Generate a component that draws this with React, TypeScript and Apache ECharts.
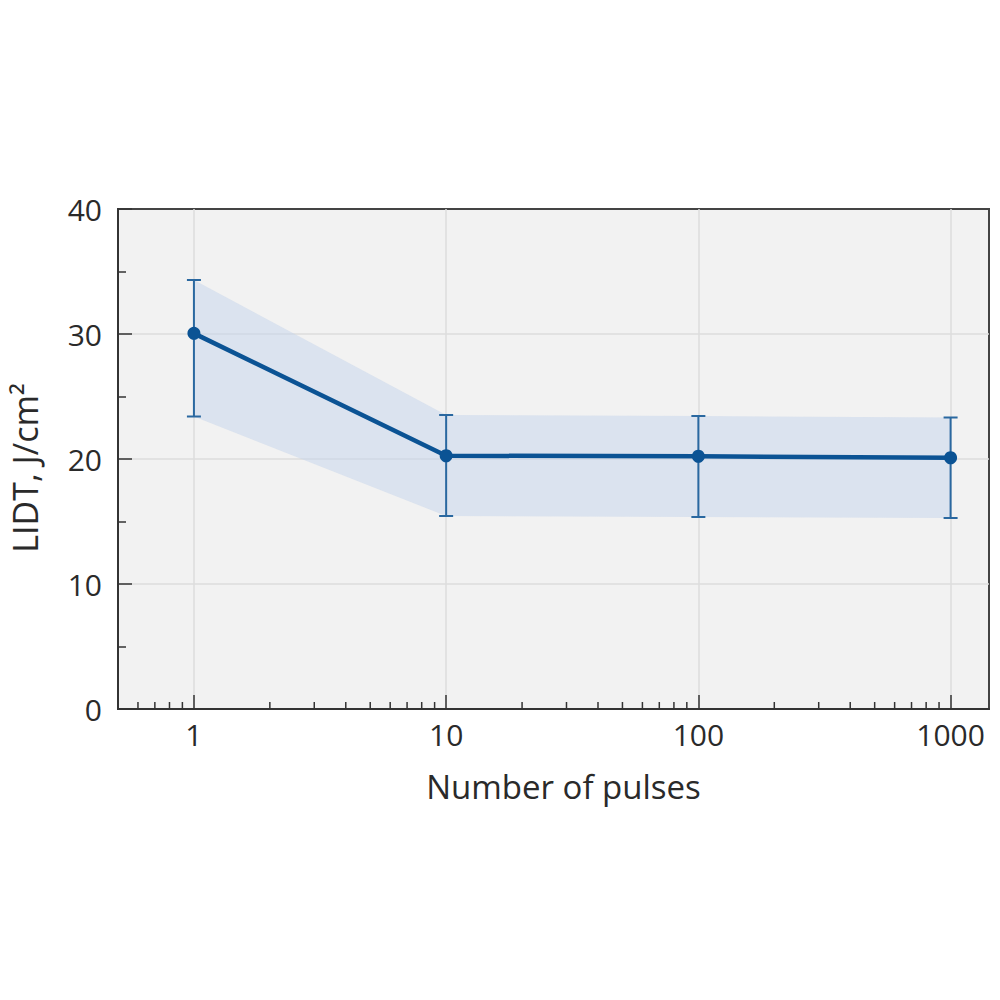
import React, { useEffect, useRef } from "react";
import * as echarts from "echarts";

const pulses = [1, 10, 100, 1000];
const lidt = [30.05, 20.26, 20.22, 20.1];
const lidtLow = [23.4, 15.44, 15.36, 15.28];
const lidtHigh = [34.32, 23.52, 23.44, 23.32];
const majorTicksX = [1, 10, 100, 1000];
const minorTicksX = [
  0.6, 0.7, 0.8, 0.9,
  2, 3, 4, 5, 6, 7, 8, 9,
  20, 30, 40, 50, 60, 70, 80, 90,
  200, 300, 400, 500, 600, 700, 800, 900,
];
const yMin = 0;
const yMax = 40;
const yStep = 10;
const xMin = 0.5;
const xMax = 1420;

const FONT = "'Open Sans', sans-serif";

export default function App() {
  const ref = useRef<HTMLDivElement>(null);
  useEffect(() => {
    if (!ref.current) return;
    const chart = echarts.init(ref.current, undefined, { renderer: "svg" });
    const isMajor = (v: number) => majorTicksX.some((m) => Math.abs(m - v) < 1e-6 * m);
    const option: any = {
      animation: false,
      backgroundColor: "#ffffff",
      grid: {
        left: 118,
        right: 11,
        top: 209,
        bottom: 291,
        show: true,
        backgroundColor: "#f2f2f2",
        borderColor: "#444444",
        borderWidth: 2,
        containLabel: false,
      },
      xAxis: {
        type: "log",
        logBase: 10,
        min: xMin,
        max: xMax,
        name: "Number of pulses",
        nameLocation: "middle",
        nameGap: 61,
        nameTextStyle: { fontFamily: FONT, fontSize: 33, color: "#2a2a2a", padding: [0, 0, 0, 20] },
        axisLine: { show: true, lineStyle: { color: "#333333", width: 2 } },
        axisTick: { show: true, inside: true, length: 14, lineStyle: { color: "#333333", width: 1.5 } },
        axisLabel: {
          margin: 10,
          fontFamily: FONT,
          fontSize: 30,
          color: "#2a2a2a",
          showMinLabel: false,
          showMaxLabel: false,
          formatter: (v: number) => (isMajor(v) ? String(Math.round(v)) : ""),
        },
        splitLine: {
          show: true,
          showMinLine: false,
          showMaxLine: false,
          lineStyle: { color: "#dcdcdc", width: 1.5 },
        },
      },
      yAxis: {
        type: "value",
        min: yMin,
        max: yMax,
        interval: yStep,
        name: "LIDT, J/cm²",
        nameLocation: "middle",
        nameGap: 76,
        nameTextStyle: { fontFamily: FONT, fontSize: 34, color: "#2a2a2a", padding: [0, 18, 0, 0] },
        axisLine: { show: true, lineStyle: { color: "#333333", width: 2 } },
        axisTick: { show: true, inside: true, length: 14, lineStyle: { color: "#333333", width: 1.5 } },
        minorTick: { show: true, splitNumber: 2, length: 8, lineStyle: { color: "#333333", width: 1.5 } },
        axisLabel: { margin: 16, fontFamily: FONT, fontSize: 30, color: "#2a2a2a" },
        splitLine: {
          show: true,
          showMinLine: false,
          showMaxLine: false,
          lineStyle: { color: "#dcdcdc", width: 1.5 },
        },
      },
      series: [
        {
          type: "custom",
          name: "band",
          z: 1,
          silent: true,
          data: pulses.map((p, i) => [p, lidtLow[i], lidtHigh[i]]),
          renderItem: (params: any, api: any) => {
            if (params.dataIndex !== 0) return null;
            const upper = pulses.map((p, i) => api.coord([p, lidtHigh[i]]));
            const lower = pulses.map((p, i) => api.coord([p, lidtLow[i]])).reverse();
            return {
              type: "polygon",
              shape: { points: upper.concat(lower) },
              style: { fill: "rgba(196,212,236,0.5)" },
            };
          },
        },
        {
          type: "custom",
          name: "minorTicks",
          z: 3,
          silent: true,
          data: minorTicksX.map((v) => [v, yMin]),
          renderItem: (params: any, api: any) => {
            const p = api.coord([api.value(0), yMin]);
            return {
              type: "line",
              shape: { x1: p[0], y1: p[1], x2: p[0], y2: p[1] - 7 },
              style: { stroke: "#333333", lineWidth: 1.5 },
            };
          },
        },
        {
          type: "custom",
          name: "errorBars",
          z: 4,
          silent: true,
          data: pulses.map((p, i) => [p, lidtLow[i], lidtHigh[i]]),
          renderItem: (params: any, api: any) => {
            const lo = api.coord([api.value(0), api.value(1)]);
            const hi = api.coord([api.value(0), api.value(2)]);
            const w = 7;
            const st = { stroke: "#2a68a0", lineWidth: 2 };
            return {
              type: "group",
              children: [
                { type: "line", shape: { x1: lo[0], y1: lo[1], x2: hi[0], y2: hi[1] }, style: st },
                { type: "line", shape: { x1: lo[0] - w, y1: lo[1], x2: lo[0] + w, y2: lo[1] }, style: st },
                { type: "line", shape: { x1: hi[0] - w, y1: hi[1], x2: hi[0] + w, y2: hi[1] }, style: st },
              ],
            };
          },
        },
        {
          type: "line",
          name: "LIDT",
          z: 5,
          data: pulses.map((p, i) => [p, lidt[i]]),
          symbol: "circle",
          symbolSize: 13,
          lineStyle: { color: "#0b5394", width: 4.5 },
          itemStyle: { color: "#0b5394" },
        },
      ],
    };
    chart.setOption(option);
    return () => chart.dispose();
  }, []);
  return (
    <div
      ref={ref}
      style={{ position: "absolute", left: 0, top: 0, width: 1000, height: 1000 }}
    />
  );
}
